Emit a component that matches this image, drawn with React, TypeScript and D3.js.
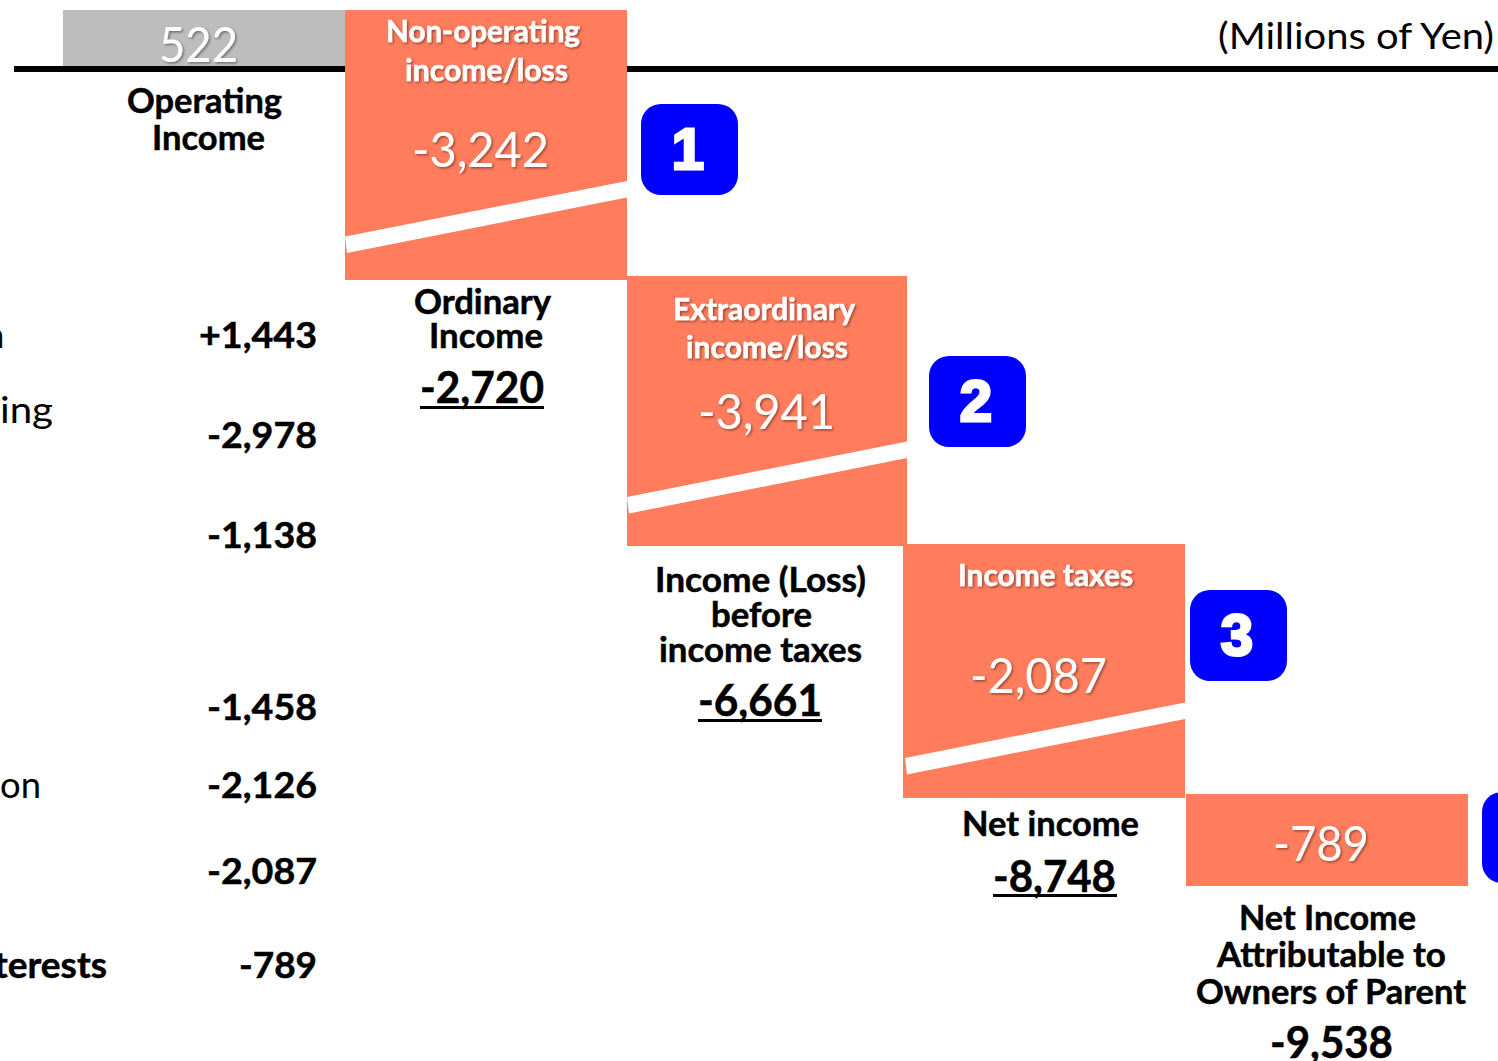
import React from 'react';
import * as d3 from 'd3';

// data
const steps = ['Operating Income', 'Non-operating income/loss', 'Extraordinary income/loss', 'Income taxes', 'Minority interests'];
const stepValues = [522, -3242, -3941, -2087, -789];
const subtotalValues = [522, -2720, -6661, -8748, -9538];
const itemValues = [1443, -2978, -1138, -1458, -2126, -2087, -789];
const itemLabelEnds = ['n', 'ing', '', '', 'on', '', 'terests'];
const badgeNumbers = ['1', '2', '3', '4'];

const W = 1498;
const H = 1061;
const CORAL = '#FF7C5C';
const GREY = '#BDBDBD';
const FONT = 'Lato, Carlito, sans-serif';

const locale = d3.formatLocale({ decimal: '.', thousands: ',', grouping: [3], currency: ['', ''], minus: '-' });
const fmt = locale.format(',');
const fmtSigned = locale.format('+,');

// broken axis, so the scale is piecewise
const y = d3.scaleLinear()
  .domain([522, 0, -2720, -6661, -8748, -9538])
  .range([10, 66, 280, 546, 798, 886]);

const barLeft = d3.scaleOrdinal<string, number>().domain(steps).range([63, 345, 627, 903, 1186]);
const barWidth = d3.scaleOrdinal<string, number>().domain(steps).range([282, 282, 280, 282, 282]);
const overlapTop = [0, 0, 4, 2, 4];

// how far above the bar bottom the white break sits (left end)
const breakLeft = [43.5, 49, 40];
const breakRise = 55.5;
const breakThick = 16.5;

const itemBaselines = [348, 448, 548, 720, 798, 884, 978];
const itemLeft = [199, 207, 207, 207, 207, 207, 239];
const labelSpans: Record<string, [number, number]> = { n: [-20, 5], ing: [0, 53], on: [0, 41], terests: [-6, 107] };

const badges = [
  { x: 641, y: 104 },
  { x: 929, y: 356 },
  { x: 1190, y: 590 },
  { x: 1482, y: 792 },
];

type FitProps = { x0: number; x1: number; b: number; size: number; weight?: number; fill?: string; shadow?: boolean; children: string };

// Calibri is not installed, so Lato is squeezed to the measured widths
const Fit = ({ x0, x1, b, size, weight = 400, fill = '#000', shadow = false, children }: FitProps) => (
  <text
    x={x0}
    y={b}
    textLength={x1 - x0}
    lengthAdjust="spacingAndGlyphs"
    fontFamily={FONT}
    fontSize={size}
    fontWeight={weight}
    fill={fill}
    stroke={weight === 700 ? fill : 'none'}
    strokeWidth={weight === 700 ? 0.5 : 0}
    filter={shadow ? 'url(#soft)' : undefined}
  >
    {children}
  </text>
);

const App = () => {
  const bars = steps.map((name, i) => {
    const top = i === 0 ? y(stepValues[0]) : i === 1 ? y(522) : y(subtotalValues[i - 1]) - overlapTop[i];
    const bottom = i === 0 ? y(0) : y(subtotalValues[i]);
    return { name, x: barLeft(name), w: barWidth(name), top, bottom };
  });

  return (
    <svg width={W} height={H} viewBox={`0 0 ${W} ${H}`} style={{ position: 'absolute', left: 0, top: 0, display: 'block' }}>
      <defs>
        <filter id="soft" x="-10%" y="-20%" width="125%" height="150%">
          <feDropShadow dx="1.5" dy="1.5" stdDeviation="1" floodColor="#000" floodOpacity="0.4" />
        </filter>
      </defs>
      <rect width={W} height={H} fill="#fff" />

      <rect x={14} y={66} width={W - 14} height={6} fill="#000" />

      {bars.map((b, i) => (
        <rect key={b.name} x={b.x} y={b.top} width={b.w} height={b.bottom - b.top} fill={i === 0 ? GREY : CORAL} />
      ))}

      {breakLeft.map((off, i) => {
        const b = bars[i + 1];
        const yl = b.bottom - off;
        const left = b.x + (i === 2 ? 2 : 0);
        const points = [
          [left, yl],
          [b.x + b.w, yl - breakRise],
          [b.x + b.w, yl - breakRise + breakThick],
          [left + 2, yl + breakThick],
        ];
        return <polygon key={b.name} points={points.map((p) => p.join(',')).join(' ')} fill="#fff" />;
      })}

      {badges.map((p, i) => (
        <rect key={badgeNumbers[i]} x={p.x} y={p.y} width={97} height={91} rx={20} ry={20} fill="#0000FF" />
      ))}
      {badges.slice(0, 3).map((p, i) => (
        <text
          key={badgeNumbers[i]}
          x={p.x + 47}
          y={p.y + 65}
          textAnchor="middle"
          fontFamily="'Liberation Sans', sans-serif"
          fontWeight={700}
          fontSize={58}
          fill="#fff"
          stroke="#fff"
          strokeWidth={3}
        >
          {badgeNumbers[i]}
        </text>
      ))}

      <Fit x0={159} x1={238} b={62} size={48} fill="#fff" shadow>{fmt(stepValues[0])}</Fit>
      <Fit x0={1218} x1={1494} b={49} size={37}>(Millions of Yen)</Fit>

      <Fit x0={127} x1={282} b={113} size={35} weight={700}>Operating</Fit>
      <Fit x0={152} x1={265} b={150} size={35} weight={700}>Income</Fit>

      <Fit x0={386} x1={580} b={42} size={30} weight={700} fill="#fff" shadow>Non-operating</Fit>
      <Fit x0={405} x1={568} b={81} size={30} weight={700} fill="#fff" shadow>income/loss</Fit>
      <Fit x0={412} x1={549} b={167} size={48} fill="#fff" shadow>{fmt(stepValues[1])}</Fit>

      <Fit x0={414} x1={551} b={314} size={34} weight={700}>Ordinary</Fit>
      <Fit x0={429} x1={543} b={348} size={34} weight={700}>Income</Fit>
      <Fit x0={420} x1={544} b={403} size={44} weight={700}>{fmt(subtotalValues[1])}</Fit>
      <rect x={420} y={406} width={124} height={3} fill="#000" />

      <Fit x0={673} x1={855} b={320} size={30} weight={700} fill="#fff" shadow>Extraordinary</Fit>
      <Fit x0={686} x1={848} b={358} size={30} weight={700} fill="#fff" shadow>income/loss</Fit>
      <Fit x0={698} x1={835} b={429} size={48} fill="#fff" shadow>{fmt(stepValues[2])}</Fit>

      <Fit x0={655} x1={866} b={592} size={34} weight={700}>Income (Loss)</Fit>
      <Fit x0={711} x1={812} b={627} size={34} weight={700}>before</Fit>
      <Fit x0={659} x1={862} b={662} size={34} weight={700}>income taxes</Fit>
      <Fit x0={698} x1={822} b={716} size={44} weight={700}>{fmt(subtotalValues[2])}</Fit>
      <rect x={698} y={719} width={124} height={3} fill="#000" />

      <Fit x0={958} x1={1133} b={586} size={30} weight={700} fill="#fff" shadow>Income taxes</Fit>
      <Fit x0={970} x1={1107} b={693} size={48} fill="#fff" shadow>{fmt(stepValues[3])}</Fit>

      <Fit x0={962} x1={1139} b={836} size={34} weight={700}>Net income</Fit>
      <Fit x0={993} x1={1116} b={892} size={44} weight={700}>{fmt(subtotalValues[3])}</Fit>
      <rect x={993} y={894} width={124} height={3} fill="#000" />

      <Fit x0={1273} x1={1369} b={861} size={48} fill="#fff" shadow>{fmt(stepValues[4])}</Fit>
      <Fit x0={1239} x1={1416} b={930} size={34} weight={700}>Net Income</Fit>
      <Fit x0={1217} x1={1446} b={967} size={34} weight={700}>Attributable to</Fit>
      <Fit x0={1196} x1={1466} b={1004} size={34} weight={700}>Owners of Parent</Fit>
      <Fit x0={1270} x1={1393} b={1058} size={44} weight={700}>{fmt(subtotalValues[4])}</Fit>

      {itemValues.map((v, i) => (
        <Fit key={i} x0={itemLeft[i]} x1={317} b={itemBaselines[i]} size={37} weight={700}>
          {v > 0 ? fmtSigned(v) : fmt(v)}
        </Fit>
      ))}

      {itemLabelEnds.map((t, i) => {
        if (!t) return null;
        const base = t === 'ing' ? 423 : itemBaselines[i];
        return (
          <Fit key={t} x0={labelSpans[t][0]} x1={labelSpans[t][1]} b={base} size={37} weight={t === 'terests' ? 700 : 400}>
            {t}
          </Fit>
        );
      })}
    </svg>
  );
};

export default App;
